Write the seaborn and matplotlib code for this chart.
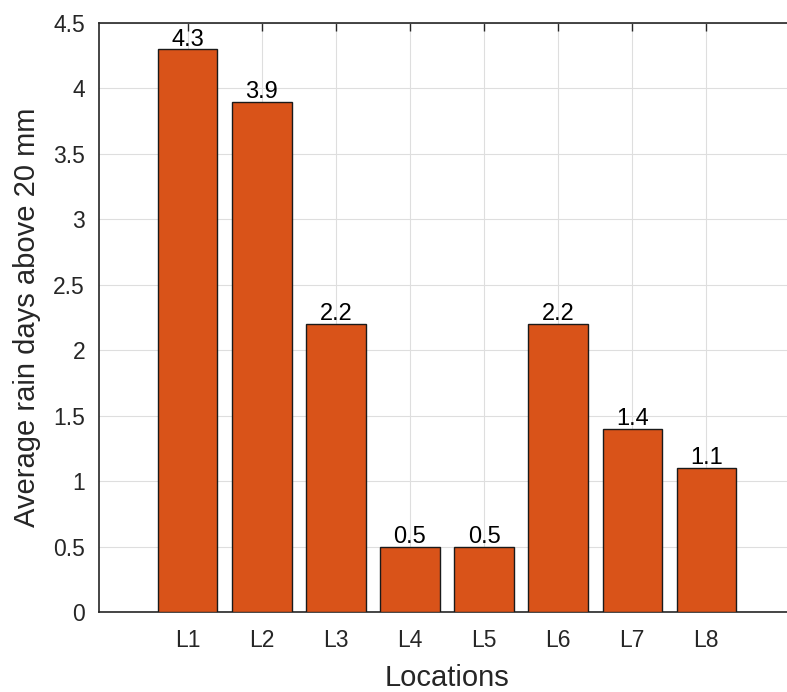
import matplotlib
matplotlib.use("Agg")
import matplotlib.pyplot as plt
import seaborn as sns
import pandas as pd

# data
locations = ["L1", "L2", "L3", "L4", "L5", "L6", "L7", "L8"]
rain_days = [4.3, 3.9, 2.2, 0.5, 0.5, 2.2, 1.4, 1.1]
y_ticks = [0, 0.5, 1, 1.5, 2, 2.5, 3, 3.5, 4, 4.5]
y_tick_labels = ["0", "0.5", "1", "1.5", "2", "2.5", "3", "3.5", "4", "4.5"]

df = pd.DataFrame({"Location": locations, "Days": rain_days})

sns.set_style("white")
plt.rcParams["font.family"] = ["Liberation Sans", "DejaVu Sans"]

fig = plt.figure(figsize=(7.87, 6.92), dpi=100)
ax = fig.add_axes([0.1258, 0.1156, 0.8844, 0.8512])

sns.barplot(data=df, x="Location", y="Days", color="#D95319",
            edgecolor="#1a1a1a", linewidth=1.0, width=0.8,
            saturation=1, ax=ax, zorder=3)

ax.bar_label(ax.containers[0], labels=[f"{v:g}" for v in rain_days],
             fontsize=17, color="black", padding=-1)

ax.set_xlim(-1.2, 8.2)
ax.set_ylim(0, 4.5)
ax.set_yticks(y_ticks)
ax.set_yticklabels(y_tick_labels)

ax.grid(True, color="#dedede", linewidth=0.8, zorder=0)
ax.set_axisbelow(True)

for s in ax.spines.values():
    s.set_color("#262626")
    s.set_linewidth(1.2)

ax.tick_params(axis="both", direction="in", length=6, width=1.0,
               color="#262626", labelsize=16.5, labelcolor="#262626",
               top=True, right=True)
ax.tick_params(axis="x", pad=12)
ax.tick_params(axis="y", pad=10)

ax.set_xlabel("Locations", fontsize=21, color="#262626", labelpad=9)
ax.set_ylabel("Average rain days above 20 mm", fontsize=21,
              color="#262626", labelpad=9)

fig.savefig("out.png", dpi=100)
